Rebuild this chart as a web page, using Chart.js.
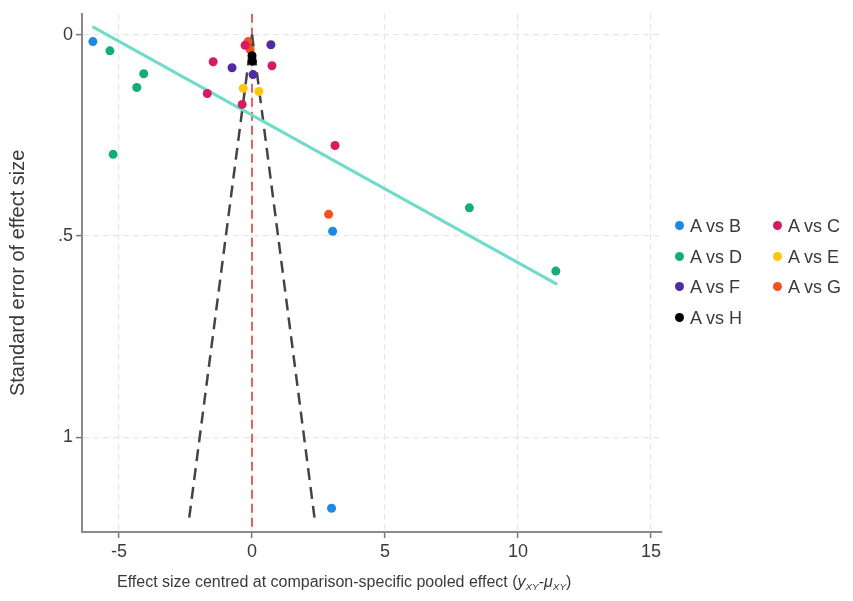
<!DOCTYPE html>
<html>
<head>
<meta charset="utf-8">
<script src="https://cdn.jsdelivr.net/npm/chart.js@4"></script>
<style>
  body { margin: 0; background: #fff; }
  #wrap { position: relative; width: 853px; height: 601px; }
  #legend { position: absolute; left: 675px; top: 212px; font-family: "Liberation Sans", Arial, sans-serif; font-size: 18px; color: #3a3a3a; }
  .item { position: absolute; white-space: nowrap; line-height: 28px; }
  .dot { display: inline-block; width: 9px; height: 9px; border-radius: 50%; margin-right: 6px; vertical-align: 2px; }
</style>
</head>
<body>
<div id="wrap">
  <canvas id="funnel" width="853" height="601"></canvas>
  <div id="legend"></div>
</div>
<script>
// datos de cada comparación: x = efecto centrado, y = error estándar
const abX = [-5.98, 3.03, 2.99];
const abY = [0.017, 0.488, 1.176];
const acX = [-1.46, -1.68, -0.37, 0.75, -0.26, 3.12];
const acY = [0.067, 0.146, 0.173, 0.077, 0.026, 0.275];
const adX = [-5.34, -4.07, -4.33, -5.22, 8.17, 11.42];
const adY = [0.040, 0.097, 0.131, 0.297, 0.430, 0.587];
const aeX = [-0.33, 0.26];
const aeY = [0.133, 0.141];
const afX = [-0.75, 0.71, 0.04];
const afY = [0.082, 0.025, 0.099];
const agX = [-0.07, -0.15, 2.88];
const agY = [0.037, 0.017, 0.446];
const ahX = [0.0, 0.01];
const ahY = [0.052, 0.066];

// línea de regresión y embudo
const regX = [-6.0, 11.47];
const regY = [-0.02, 0.62];
const funnelLeftX = [0, -2.36];
const funnelRightX = [0, 2.35];
const funnelY = [0, 1.2];

const xTicks = [-5, 0, 5, 10, 15];
const yTicks = [0, 0.5, 1];
const xMin = -6.39, xMax = 15.41;
const yMin = -0.052, yMax = 1.235;

const toPts = (xs, ys) => xs.map((x, i) => ({ x: x, y: ys[i] }));

// orden por columnas para la leyenda (B, D, F, H | C, E, G)
const groups = [
  { label: "A vs B", x: abX, y: abY, color: "#1e88e5" },
  { label: "A vs D", x: adX, y: adY, color: "#14ad78" },
  { label: "A vs F", x: afX, y: afY, color: "#4f2ca0" },
  { label: "A vs H", x: ahX, y: ahY, color: "#000000" },
  { label: "A vs C", x: acX, y: acY, color: "#d81b60" },
  { label: "A vs E", x: aeX, y: aeY, color: "#fcc60c" },
  { label: "A vs G", x: agX, y: agY, color: "#f4511e" },
];

const font = "'Liberation Sans', Arial, sans-serif";
const textColor = "#3a3a3a";

const pointSets = groups.map((g) => ({
  type: "scatter",
  label: g.label,
  data: toPts(g.x, g.y),
  backgroundColor: g.color,
  borderColor: g.color,
  borderWidth: 0,
  pointRadius: 4.5,
  order: 1,
}));

const lineSets = [
  {
    label: "regresión",
    data: toPts(regX, regY),
    borderColor: "#6fdccb",
    borderWidth: 3,
  },
  {
    label: "embudo izq",
    data: toPts(funnelLeftX, funnelY),
    borderColor: "#444",
    borderWidth: 2.5,
    borderDash: [12, 7],
  },
  {
    label: "embudo der",
    data: toPts(funnelRightX, funnelY),
    borderColor: "#444",
    borderWidth: 2.5,
    borderDash: [12, 7],
  },
  {
    label: "cero",
    data: toPts([0, 0], [yMin, yMax]),
    borderColor: "#e86060",
    borderWidth: 2,
    borderDash: [9, 5],
  },
].map((d) => Object.assign({ type: "line", pointRadius: 0, fill: false, order: 2 }, d));

// título del eje x con subíndices
const xTitlePlugin = {
  id: "xTitle",
  afterDraw(chart) {
    const ctx = chart.ctx;
    const size = 16;
    let x = 117;
    const y = 587;
    ctx.save();
    ctx.fillStyle = textColor;
    ctx.textBaseline = "alphabetic";
    const parts = [
      ["Effect size centred at comparison-specific pooled effect (", "", 0],
      ["y", "italic ", 0],
      ["XY", "italic ", 1],
      ["-", "", 0],
      ["\u03bc", "italic ", 0],
      ["XY", "italic ", 1],
      [")", "", 0],
    ];
    parts.forEach(([txt, style, sub]) => {
      const s = sub ? size * 0.62 : size;
      ctx.font = style + s + "px " + font;
      ctx.fillText(txt, x, sub ? y + 3 : y);
      x += ctx.measureText(txt).width;
    });
    ctx.restore();
  },
};

const ctx = document.getElementById("funnel").getContext("2d");
new Chart(ctx, {
  data: { datasets: pointSets.concat(lineSets) },
  options: {
    responsive: false,
    animation: false,
    layout: { padding: { left: 0, top: 12, right: 191, bottom: 0 } },
    plugins: { legend: { display: false }, tooltip: { enabled: false } },
    scales: {
      x: {
        type: "linear",
        min: xMin,
        max: xMax,
        afterFit: (s) => { s.height = 69; },
        afterBuildTicks: (s) => { s.ticks = xTicks.map((v) => ({ value: v })); },
        ticks: { font: { family: font, size: 18 }, color: textColor, padding: 3 },
        grid: { color: "#e6e6e6", lineWidth: 1.2, tickColor: "#777", tickLength: 6, tickWidth: 1.5 },
        border: { color: "#8a8a8a", width: 2, dash: [6, 4] },
      },
      y: {
        type: "linear",
        reverse: true,
        min: yMin,
        max: yMax,
        afterFit: (s) => { s.width = 82; },
        afterBuildTicks: (s) => { s.ticks = yTicks.map((v) => ({ value: v })); },
        ticks: {
          font: { family: font, size: 18 },
          color: textColor,
          padding: 3,
          callback: (v) => (v === 0 ? "0" : String(v).replace(/^0/, "")),
        },
        title: {
          display: true,
          text: "Standard error of effect size",
          font: { family: font, size: 20 },
          color: textColor,
          padding: { top: 6, bottom: 0 },
        },
        grid: { color: "#e6e6e6", lineWidth: 1.2, tickColor: "#777", tickLength: 6, tickWidth: 1.5 },
        border: { color: "#8a8a8a", width: 2, dash: [6, 4] },
      },
    },
  },
  plugins: [xTitlePlugin],
});

// leyenda en dos columnas
const legend = document.getElementById("legend");
groups.forEach((g, i) => {
  const col = i < 4 ? 0 : 1;
  const row = i < 4 ? i : i - 4;
  const el = document.createElement("div");
  el.className = "item";
  el.style.left = col * 98 + "px";
  el.style.top = row * 30.7 + "px";
  el.innerHTML = '<span class="dot" style="background:' + g.color + '"></span>' + g.label;
  legend.appendChild(el);
});
</script>
</body>
</html>
